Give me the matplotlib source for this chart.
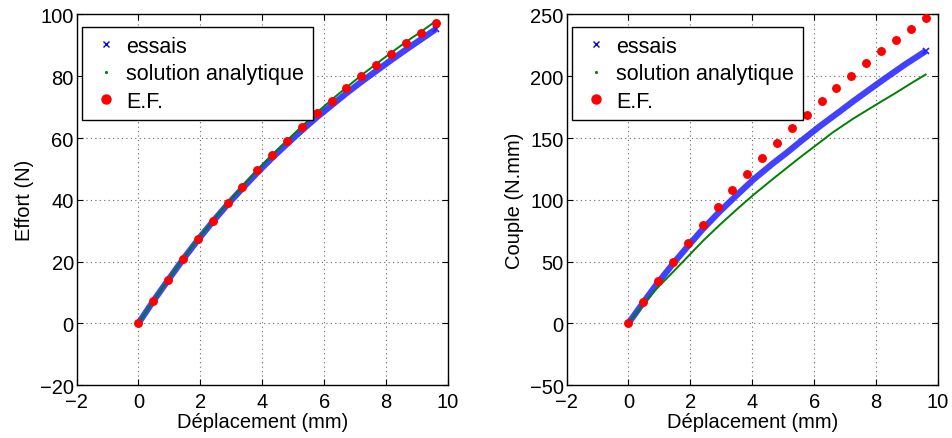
import matplotlib
matplotlib.use("Agg")
import matplotlib.pyplot as plt
from matplotlib.lines import Line2D

plt.rcParams['font.family'] = ['Liberation Sans', 'DejaVu Sans']

# ---- data: left plot (Effort) ----
ef_x = [0, 0.48, 0.96, 1.44, 1.92, 2.40, 2.88, 3.36, 3.84, 4.32, 4.80,
        5.28, 5.76, 6.24, 6.72, 7.20, 7.68, 8.16, 8.64, 9.12, 9.60]
effort_ef = [0, 7.2, 14.1, 20.9, 27.2, 33.2, 38.9, 44.2, 49.5, 54.5, 59.0,
             63.6, 68.0, 72.1, 76.1, 80.0, 83.6, 87.2, 90.7, 93.9, 97.3]
effort_essais = [0, 7.2, 14.0, 20.7, 27.0, 32.9, 38.5, 43.7, 48.8, 53.6, 58.1,
                 62.5, 66.7, 70.6, 74.5, 78.2, 81.7, 85.2, 88.6, 91.9, 95.2]
effort_analytique = [0, 7.2, 14.1, 20.9, 27.2, 33.2, 38.9, 44.3, 49.6, 54.6, 59.2,
                     63.8, 68.2, 72.4, 76.4, 80.3, 84.0, 87.6, 91.1, 94.4, 97.8]

# ---- data: right plot (Couple) ----
couple_ef = [0, 17.5, 33.9, 49.7, 65.0, 79.8, 94.1, 108.1, 121.0, 134.0, 146.0,
             157.8, 169.0, 179.7, 190.1, 200.6, 210.7, 220.1, 229.5, 238.3, 247.1]
couple_essais_x = [0, 0.49, 0.91, 1.45, 1.88, 2.41, 2.95, 3.49, 4.03, 4.66, 5.10,
                   5.60, 6.18, 6.80, 7.25, 7.80, 8.32, 8.94, 9.60]
couple_essais = [0, 17.2, 31.5, 48.5, 61.2, 76.5, 90.5, 103.5, 116.2, 129.3, 137.8,
                 148.0, 159.5, 171.0, 179.5, 189.5, 198.8, 209.6, 220.3]
couple_analytique_x = [0, 0.45, 0.91, 1.40, 1.88, 2.40, 2.95, 3.50, 4.03, 4.60, 5.10,
                       5.55, 6.00, 6.60, 7.25, 8.00, 8.60, 9.10, 9.60]
couple_analytique = [0, 14.5, 28.0, 40.5, 53.0, 66.5, 79.7, 92.2, 103.8, 115.5, 125.5,
                     134.4, 143.0, 154.5, 165.5, 177.0, 186.0, 193.8, 201.4]

xticks = [-2, 0, 2, 4, 6, 8, 10]
xlabel = "Déplacement (mm)"

fig = plt.figure(figsize=(9.52, 4.39), dpi=100)
ax1 = fig.add_axes([0.0804, 0.1207, 0.3902, 0.8440])
ax2 = fig.add_axes([0.5951, 0.1207, 0.3902, 0.8440])

BLUE = '#2020ff'
GREEN = '#008000'
RED = '#ff0000'
FS = 14.5

def style(ax, ylim, yticks, ylabel):
    ax.set_xlim(-2, 10)
    ax.set_ylim(*ylim)
    ax.set_xticks(xticks)
    ax.set_yticks(yticks)
    ax.set_xticklabels([str(t).replace('-', '\u2212') for t in xticks])
    ax.set_yticklabels([str(t).replace('-', '\u2212') for t in yticks])
    ax.tick_params(direction='in', top=True, right=True, length=4, width=0.8,
                   labelsize=FS, colors='black')
    ax.tick_params(axis='y', pad=2)
    ax.tick_params(axis='x', pad=5)
    ax.grid(True, linestyle=(0, (1, 3)), color='#666666', linewidth=0.8)
    for s in ax.spines.values():
        s.set_linewidth(1.0)
    ax.set_xlabel(xlabel, fontsize=FS, labelpad=1)
    ax.set_ylabel(ylabel, fontsize=FS, labelpad=4)

def draw(ax, ex, ey, ax_x, ay, efy):
    ax.plot(ex, ey, '-', color=BLUE, lw=4.5, alpha=0.85, solid_capstyle='butt', zorder=2)
    ax.plot(ex[-1:], ey[-1:], 'x', color=BLUE, ms=5, mew=1.2, zorder=2)
    ax.plot(ax_x, ay, '-', color=GREEN, lw=1.4, zorder=3)
    ax.plot(ef_x, efy, 'o', color=RED, ms=5.4, mec=RED, zorder=4)
    handles = [Line2D([], [], ls='none', marker='x', color='blue', ms=4, mew=1.0),
               Line2D([], [], ls='none', marker='.', color=GREEN, ms=2.5),
               Line2D([], [], ls='none', marker='o', color=RED, ms=6.5)]
    leg = ax.legend(handles, ['essais', 'solution analytique', 'E.F.'],
                    loc='upper left', fontsize=15.5, frameon=True, fancybox=False,
                    edgecolor='black', framealpha=1, borderpad=0.4,
                    labelspacing=0.3, handlelength=1.38, handletextpad=0.25,
                    borderaxespad=0.0, bbox_to_anchor=(0.016, 0.966))
    leg.get_frame().set_linewidth(1.0)
    leg.set_zorder(10)

draw(ax1, ef_x, effort_essais, ef_x, effort_analytique, effort_ef)
style(ax1, (-20, 100), [-20, 0, 20, 40, 60, 80, 100], "Effort (N)")

draw(ax2, couple_essais_x, couple_essais, couple_analytique_x, couple_analytique, couple_ef)
style(ax2, (-50, 250), [-50, 0, 50, 100, 150, 200, 250], "Couple (N.mm)")

fig.savefig("out.png", dpi=100)
